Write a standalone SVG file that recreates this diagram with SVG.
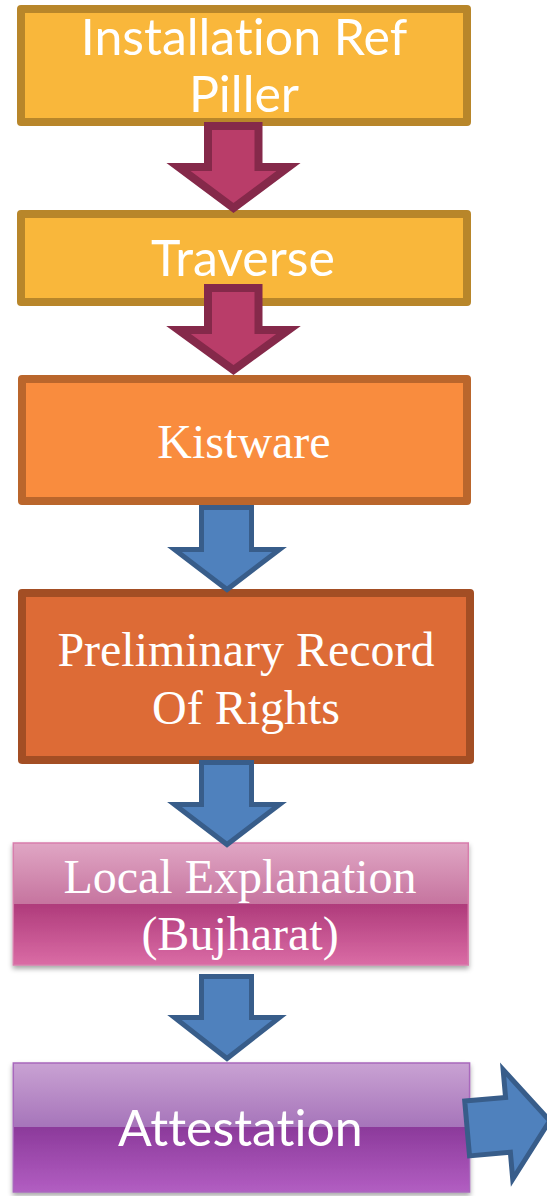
<svg xmlns="http://www.w3.org/2000/svg" width="547" height="1196" viewBox="0 0 547 1196">
  <defs>
    <linearGradient id="gPink" x1="0" y1="0" x2="0" y2="1">
      <stop offset="0" stop-color="#E0A6C4"/>
      <stop offset="0.5" stop-color="#C6749F"/>
      <stop offset="0.5" stop-color="#AF3B7B"/>
      <stop offset="1" stop-color="#DA6CA5"/>
    </linearGradient>
    <linearGradient id="gPurple" x1="0" y1="0" x2="0" y2="1">
      <stop offset="0" stop-color="#C9A2D3"/>
      <stop offset="0.5" stop-color="#A674BA"/>
      <stop offset="0.5" stop-color="#8C3A9B"/>
      <stop offset="1" stop-color="#B25EC2"/>
    </linearGradient>
    <filter id="shadow" x="-5%" y="-10%" width="110%" height="130%">
      <feDropShadow dx="0" dy="3" stdDeviation="2.5" flood-color="#000" flood-opacity="0.35"/>
    </filter>
  </defs>
  <style>
    .box { stroke-width: 8; stroke-linejoin: round; }
    .sans { font-family: Lato, "Open Sans", "DejaVu Sans", sans-serif; fill: #fff; text-anchor: middle; font-size: 50px; font-variant-ligatures: none; }
    .serif { font-family: "Liberation Serif", "Times New Roman", serif; fill: #fff; text-anchor: middle; font-size: 48px; }
    .pinkArrow { fill: #B93D69; stroke: #85294A; stroke-width: 8; stroke-linejoin: miter; }
    .blueArrow { fill: #4F81BD; stroke: #385D8A; stroke-width: 5; stroke-linejoin: miter; }
  </style>
  <rect width="547" height="1196" fill="#fff"/>

  <g id="node-installation">
    <rect class="box" x="21" y="9" width="446" height="113" fill="#F9B73B" stroke="#B8862A"/>
    <text class="sans" x="244" y="55" font-size="49">Installation Ref</text>
    <text class="sans" x="244" y="112" font-size="49">Piller</text>
  </g>

  <g id="node-traverse">
    <rect class="box" x="21" y="214" width="446" height="88" fill="#F9B73B" stroke="#B8862A"/>
    <text class="sans" x="243" y="276">Traverse</text>
  </g>

  <g id="node-kistware">
    <rect class="box" x="22" y="379" width="445" height="122" fill="#F98C3E" stroke="#BA662C"/>
    <text class="serif" x="244" y="458">Kistware</text>
  </g>

  <g id="node-preliminary">
    <rect class="box" x="22" y="593" width="448" height="167" fill="#DD6B36" stroke="#A34E24"/>
    <text class="serif" x="246" y="666">Preliminary Record</text>
    <text class="serif" x="246" y="724">Of Rights</text>
  </g>

  <g id="node-local">
    <rect x="13.3" y="843" width="455" height="122" fill="url(#gPink)" stroke="#D77EAC" stroke-width="1.5" filter="url(#shadow)"/>
    <text class="serif" x="240" y="893">Local Explanation</text>
    <text class="serif" x="240" y="950">(Bujharat)</text>
  </g>

  <g id="node-attestation">
    <rect x="13.3" y="1063" width="456.3" height="129" fill="url(#gPurple)" stroke="#A868BC" stroke-width="1.5" filter="url(#shadow)"/>
    <text class="sans" x="240.4" y="1146">Attestation</text>
  </g>

  <g id="connectors">
    <polygon class="pinkArrow" points="208,126 258.5,126 258.5,167 288.5,167 233.5,208 178.5,167 208,167"/>
    <polygon class="pinkArrow" points="208,288 258.5,288 258.5,330 288.5,330 233.5,370 178.5,330 208,330"/>
    <polygon class="blueArrow" points="201.5,507.5 251.5,507.5 251.5,549.5 279.5,549.5 227,589.5 174.5,549.5 201.5,549.5"/>
    <polygon class="blueArrow" points="201.5,762.5 251.5,762.5 251.5,804.5 279.5,804.5 227,844.5 174.5,804.5 201.5,804.5"/>
    <polygon class="blueArrow" points="201.5,976.5 251.5,976.5 251.5,1017.5 279.5,1017.5 227,1058.5 174.5,1017.5 201.5,1017.5"/>
    <polygon class="blueArrow" transform="rotate(-5 490 1126)" points="467,1099 508,1099 508,1071 550,1126 508,1181 508,1154 467,1154"/>
  </g>
</svg>
